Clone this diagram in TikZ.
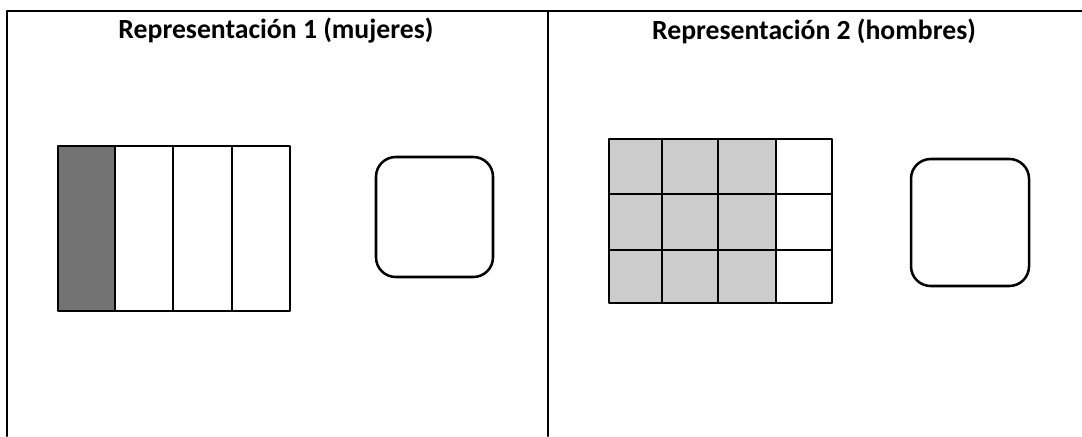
\documentclass[tikz,border=0pt]{standalone}
\usepackage{fontspec}
\setmainfont{Carlito}
\definecolor{darkfill}{HTML}{737373}
\definecolor{lightfill}{HTML}{CCCCCC}
\tikzset{
  every picture/.style={line join=round, line cap=round},
  frame/.style={line width=1.6pt},
  cell/.style={draw, line width=2pt},
  answer/.style={draw, line width=1.8pt, rounded corners=14pt},
  title/.style={font=\fontsize{19.7}{24}\selectfont\bfseries},
}

\begin{document}
\begin{tikzpicture}[x=0.025cm,y=-0.025cm]
\useasboundingbox (0,0) rectangle (1082,436);
% frame
\draw[frame] (7,436) -- (7,11) -- (1082,11);
\draw[frame] (548,11) -- (548,436);
\node[title] (t1) at (276,31) {Representación 1 (mujeres)};
\node[title] (t2) at (814,31) {Representación 2 (hombres)};
% representacion 1
\fill[darkfill] (58,146) rectangle (115,311);
\foreach \xa/\xb in {58/115,115/173,173/232,232/290}
  \draw[cell] (\xa,146) rectangle (\xb,311);
\draw[answer] (376,157) rectangle (493,277);
% representacion 2
\foreach \xa/\xb in {609/662,662/718,718/776}
  \foreach \ya/\yb in {139/194,194/250,250/303}
    \fill[lightfill] (\xa,\ya) rectangle (\xb,\yb);
\foreach \xa/\xb in {609/662,662/718,718/776,776/832}
  \foreach \ya/\yb in {139/194,194/250,250/303}
    \draw[cell] (\xa,\ya) rectangle (\xb,\yb);
\draw[answer] (911,159) rectangle (1029,286);
\end{tikzpicture}
\end{document}
